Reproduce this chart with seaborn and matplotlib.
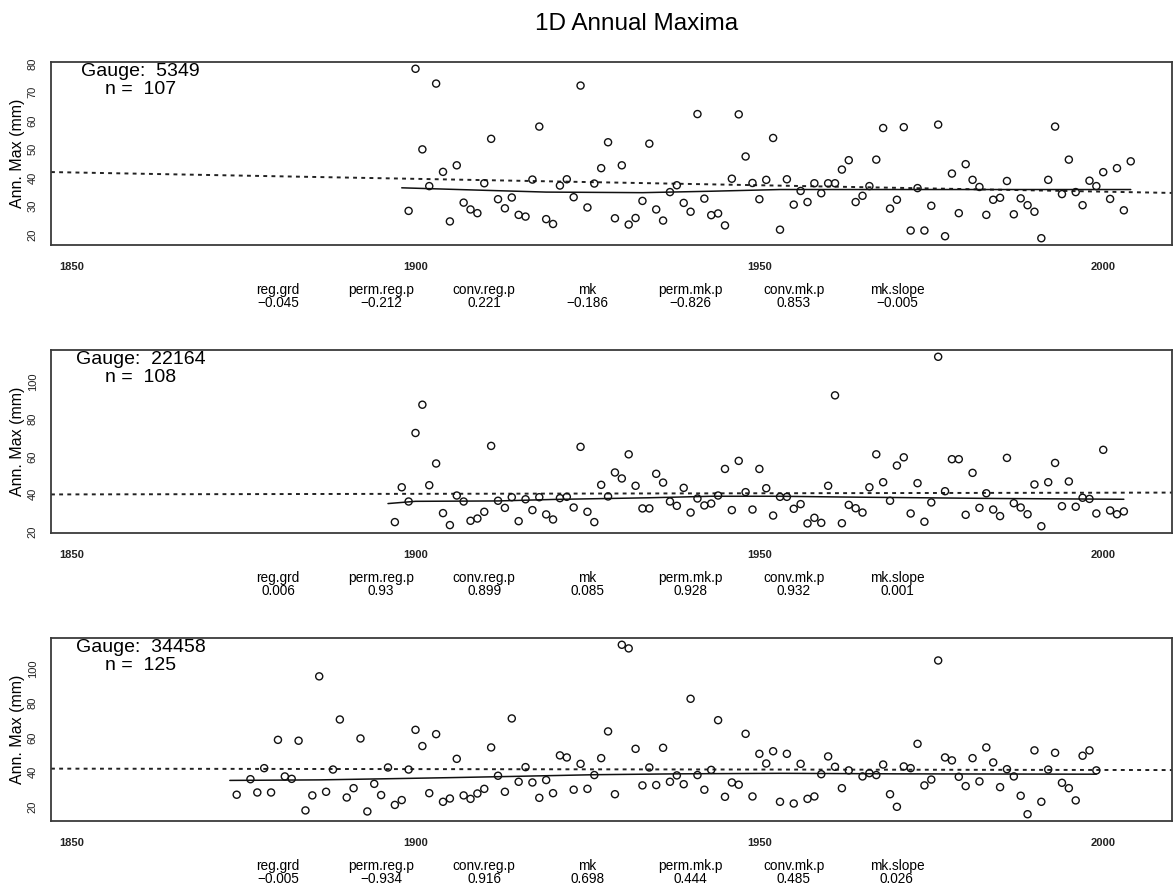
import numpy as np
import pandas as pd
import matplotlib
matplotlib.use("Agg")
import matplotlib.pyplot as plt
import seaborn as sns

# ---------------------------------------------------------------------------
# Annual maximum 1-day rainfall (mm) for three gauges
# ---------------------------------------------------------------------------
gauge_ids = [5349, 22164, 34458]
n_obs = [107, 108, 125]

years_5349 = list(range(1899, 2005))
amax_5349 = [28.3, 78.2, 49.9, 37.0, 73.0, 42.0, 24.6, 44.3, 31.2, 28.8,
             27.5, 38.0, 53.6, 32.4, 29.2, 33.0, 26.9, 26.3, 39.3, 57.9,
             25.4, 23.7, 37.2, 39.4, 33.1, 72.3, 29.5, 37.9, 43.3, 52.4,
             25.7, 44.3, 23.5, 25.8, 31.8, 51.9, 28.8, 24.9, 34.9, 37.3,
             31.1, 28.0, 62.3, 32.6, 26.8, 27.4, 23.2, 39.6, 62.2, 47.4,
             38.1, 32.4, 39.2, 53.9, 21.7, 39.4, 30.5, 35.3, 31.4, 38.0,
             34.5, 38.0, 38.0, 42.8, 46.1, 31.4, 33.6, 37.0, 46.3, 57.4,
             29.1, 32.2, 57.7, 21.4, 36.3, 21.4, 30.1, 58.6, 19.4, 41.4,
             27.5, 44.7, 39.2, 36.7, 26.9, 32.2, 32.9, 38.8, 27.1, 32.7,
             30.3, 28.0, 18.7, 39.2, 57.9, 34.2, 46.3, 34.9, 30.3, 38.9,
             37.0, 41.9, 32.5, 43.3, 28.5, 45.7]

years_22164 = list(range(1897, 2004))
amax_22164 = [25.0, 43.6, 36.0, 72.6, 87.7, 44.7, 56.3, 29.8, 23.4, 39.2,
              36.0, 25.7, 26.9, 30.5, 65.7, 36.4, 32.6, 38.3, 25.5, 37.2,
              31.4, 38.3, 29.1, 26.4, 37.8, 38.5, 32.8, 65.2, 30.5, 25.0,
              44.9, 38.7, 51.5, 48.3, 61.2, 44.4, 32.3, 32.3, 50.8, 46.1,
              36.0, 33.7, 43.3, 30.1, 37.6, 33.9, 34.9, 39.2, 53.4, 31.4,
              57.7, 41.0, 31.7, 53.4, 43.1, 28.5, 38.5, 38.5, 32.1, 34.6,
              24.3, 27.3, 24.6, 44.4, 92.7, 24.4, 34.2, 32.4, 30.1, 43.6,
              61.2, 46.3, 36.4, 55.2, 59.6, 29.6, 45.8, 25.2, 35.5, 113.3,
              41.5, 58.6, 58.6, 28.9, 51.3, 32.6, 40.4, 31.7, 28.2, 59.3,
              35.1, 32.8, 29.2, 45.1, 22.8, 46.3, 56.6, 33.5, 46.7, 33.2,
              38.0, 37.4, 29.6, 63.6, 31.2, 29.2, 30.7]

years_34458 = [1874] + list(range(1876, 1964)) + list(range(1965, 2000))
amax_34458 = [27.0, 36.0, 28.3, 42.4, 28.3, 58.8, 37.6, 36.2, 58.3, 17.9,
              26.6, 95.6, 28.7, 41.6, 70.6, 25.4, 30.8, 59.6, 17.3, 33.3,
              26.8, 42.8, 21.1, 23.9, 41.6, 64.6, 55.2, 27.9, 62.1, 22.9,
              24.8, 47.8, 26.6, 24.6, 27.7, 30.4, 54.4, 38.0, 28.7, 71.2,
              34.5, 43.0, 34.1, 25.2, 35.5, 27.9, 49.8, 48.6, 29.9, 44.9,
              30.4, 38.4, 48.2, 63.7, 27.3, 113.9, 111.8, 53.6, 32.4, 42.8,
              32.6, 54.2, 34.5, 38.2, 33.1, 82.6, 38.4, 29.9, 41.4, 70.2,
              25.8, 34.1, 32.8, 62.3, 26.0, 50.7, 45.1, 52.2, 22.9, 50.7,
              21.9, 44.9, 24.6, 26.0, 38.9, 49.2, 43.2, 30.8, 41.1,
              37.6, 39.5, 38.4, 44.5, 27.3, 20.0, 43.4, 42.4, 56.5, 32.4,
              35.8, 104.8, 48.6, 46.9, 37.4, 32.0, 48.2, 34.7, 54.4, 45.7,
              31.4, 41.8, 37.6, 26.4, 15.7, 52.7, 22.9, 41.6, 51.3, 33.9,
              30.8, 23.7, 49.6, 52.7, 41.1]

# Smoothed (lowess) curves through each record
smooth_years_5349 = [1898, 1909, 1919, 1933, 1943, 1953, 1975, 2004]
smooth_vals_5349 = [36.4, 35.6, 34.9, 34.7, 35.2, 35.8, 35.8, 35.8]
smooth_years_22164 = [1896, 1900, 1912, 1920, 1934, 1943, 1953, 1962, 1985, 2003]
smooth_vals_22164 = [34.9, 36.1, 36.3, 37.1, 38.0, 38.8, 38.8, 38.4, 37.6, 37.2]
smooth_years_34458 = [1873, 1886, 1895, 1905, 1914, 1926, 1938, 1953, 1970, 1999]
smooth_vals_34458 = [35.3, 35.6, 36.2, 36.9, 37.6, 38.6, 39.1, 39.4, 39.1, 38.9]

# Linear trend: fitted level at 1950, gradient = reg.grd
trend_level_1950 = [37.3, 40.4, 41.6]

# Trend test summary for each gauge
stat_names = ["reg.grd", "perm.reg.p", "conv.reg.p", "mk",
              "perm.mk.p", "conv.mk.p", "mk.slope"]
stats_5349 = [-0.045, -0.212, 0.221, -0.186, -0.826, 0.853, -0.005]
stats_22164 = [0.006, 0.93, 0.899, 0.085, 0.928, 0.932, 0.001]
stats_34458 = [-0.005, -0.934, 0.916, 0.698, 0.444, 0.485, 0.026]

x_ticks = [1850, 1900, 1950, 2000]
y_ticks = [[20, 30, 40, 50, 60, 70, 80],
           [20, 40, 60, 80, 100],
           [20, 40, 60, 80, 100]]

# ---------------------------------------------------------------------------
sns.set_style("white")
plt.rcParams["font.family"] = ["Liberation Sans", "DejaVu Sans"]
plt.rcParams["text.color"] = "black"
plt.rcParams["xtick.color"] = "#222222"
plt.rcParams["ytick.color"] = "#222222"

records = [
    (years_5349, amax_5349, smooth_years_5349, smooth_vals_5349, stats_5349),
    (years_22164, amax_22164, smooth_years_22164, smooth_vals_22164, stats_22164),
    (years_34458, amax_34458, smooth_years_34458, smooth_vals_34458, stats_34458),
]

W, H = 1173, 885
fig = plt.figure(figsize=(W / 100, H / 100), dpi=100)
px = 72 / 100  # points per pixel

xlim = (1847, 2010)
panel_tops = [62, 350, 638]
panel_h = 183
ax_left, ax_right = 51, 1172

for i, (yrs, amax, syr, sval, stats) in enumerate(records):
    top = panel_tops[i]
    ax = fig.add_axes([ax_left / W, 1 - (top + panel_h) / H,
                       (ax_right - ax_left) / W, panel_h / H])

    df = pd.DataFrame({"year": yrs, "amax": amax})
    lo, hi = min(amax), max(amax)
    pad = 0.04 * (hi - lo)

    # linear trend across the full axis
    slope = stats[0]
    tx = np.array(xlim, dtype=float)
    ty = trend_level_1950[i] + slope * (tx - 1950)
    sns.lineplot(x=tx, y=ty, ax=ax, color="#222222", lw=1.4,
                 linestyle=(0, (2.0, 2.2)), zorder=2)

    # lowess smooth
    sns.lineplot(x=syr, y=sval, ax=ax, color="#111111", lw=1.1, zorder=3)

    # annual maxima
    sns.scatterplot(data=df, x="year", y="amax", ax=ax, marker="o", s=26,
                    facecolor="none", edgecolor="#111111", linewidth=1.0,
                    zorder=4)

    ax.set_xlim(*xlim)
    ax.set_ylim(lo - pad, hi + pad)
    ax.set_xticks(x_ticks)
    ax.set_yticks(y_ticks[i])
    ax.set_xlabel("")
    ax.set_ylabel("")

    for s in ax.spines.values():
        s.set_color("#3a3a3a")
        s.set_linewidth(1.3)
        s.set_visible(True)

    ax.tick_params(axis="x", direction="out", length=4, width=1.0,
                   color="#3a3a3a", pad=8.5, labelsize=8)
    ax.tick_params(axis="y", direction="out", length=3, width=1.0,
                   color="#3a3a3a", pad=6.5, labelsize=8)
    for lab in ax.get_xticklabels():
        lab.set_fontweight("bold")
    for lab in ax.get_yticklabels():
        lab.set_rotation(90)
        lab.set_va("center")

    # gauge annotation
    cx = (140.5 - ax_left) / (ax_right - ax_left)
    ax.text(cx, 1 - 9.5 / panel_h, f"Gauge:  {gauge_ids[i]}",
            transform=ax.transAxes, ha="center", va="center", fontsize=14)
    ax.text(cx, 1 - 27.5 / panel_h, f"n =  {n_obs[i]}",
            transform=ax.transAxes, ha="center", va="center", fontsize=14)

    # axis label
    fig.text(18 / W, 1 - (top + panel_h / 2) / H, "Ann. Max (mm)",
             rotation=90, ha="center", va="center", fontsize=11.5)

    # trend statistics under the panel
    for k, (name, val) in enumerate(zip(stat_names, stats)):
        xs = 1880 + 15 * k
        txt = f"{val:g}".replace("-", "\u2212")
        ax.annotate(name, xy=(xs, 0), xycoords=("data", "axes fraction"),
                    xytext=(0, -45 * px), textcoords="offset points",
                    ha="center", va="center", fontsize=9.8,
                    annotation_clip=False)
        ax.annotate(txt, xy=(xs, 0), xycoords=("data", "axes fraction"),
                    xytext=(0, -58 * px), textcoords="offset points",
                    ha="center", va="center", fontsize=9.8,
                    annotation_clip=False)

fig.text(636.5 / W, 1 - 24 / H, "1D Annual Maxima", ha="center",
         va="center", fontsize=17.5)

fig.savefig("out.png", dpi=100)
